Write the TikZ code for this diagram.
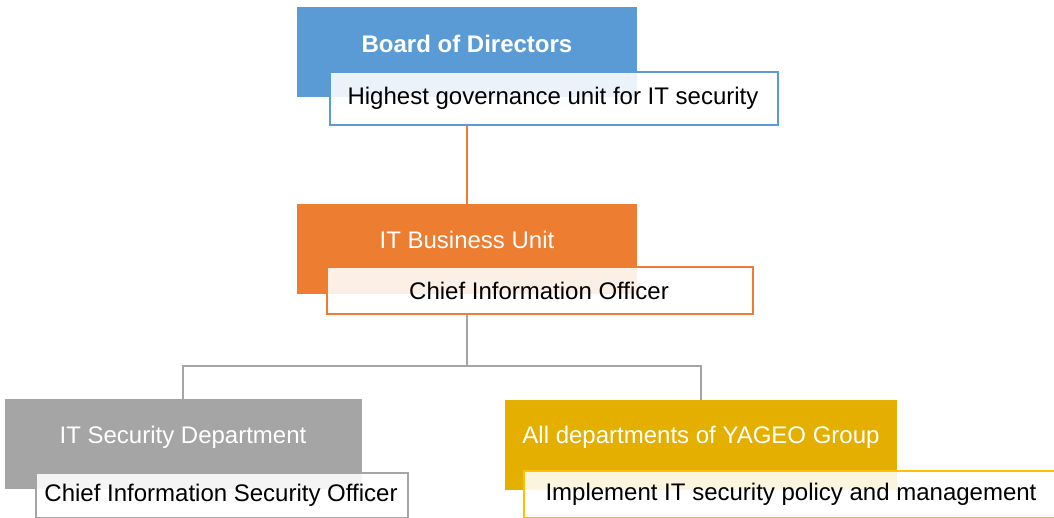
\documentclass[tikz,border=0pt]{standalone}
\usepackage{fontspec}
\setmainfont{Liberation Sans}
\definecolor{cblue}{HTML}{5B9BD5}
\definecolor{corange}{HTML}{ED7D31}
\definecolor{cgray}{HTML}{A5A5A5}
\definecolor{cgold}{HTML}{E5AF00}
\definecolor{cgoldline}{HTML}{FFC000}
\begin{document}
\begin{tikzpicture}[x=1pt,y=-1pt,
  mainbox/.style={rectangle, inner sep=0pt, draw=none, anchor=north west},
  subbox/.style={rectangle, inner sep=0pt, fill=white, fill opacity=0.88, text opacity=1,
    line width=2pt, anchor=north west, text=black, font=\fontsize{24}{28}\selectfont},
  maintext/.style={inner sep=0pt, text=white, font=\fontsize{24}{28}\selectfont},
  subtext/.style={inner sep=0pt, text=black, font=\fontsize{24}{28}\selectfont},
  link/.style={line width=2.5pt}]
\useasboundingbox (0,0) rectangle (1054,518);
% coloured boxes
\node[mainbox, fill=cblue, minimum width=340pt, minimum height=90pt] (bod) at (297,7) {};
\node[mainbox, fill=corange, minimum width=340pt, minimum height=90pt] (itb) at (297,204) {};
\node[mainbox, fill=cgray, minimum width=357pt, minimum height=90pt] (isd) at (5,399) {};
\node[mainbox, fill=cgold, minimum width=392pt, minimum height=90pt] (all) at (505,400) {};
% connector coordinates
\coordinate (c1) at (467,124);
\coordinate (c2) at (467,204);
\coordinate (c3) at (467,313);
\coordinate (h0) at (467,366);
\coordinate (hl) at (183,366);
\coordinate (hr) at (701,366);
\coordinate (dl) at (183,399);
\coordinate (dr) at (701,400);
\draw[link, corange] (c1) -- (c2);
\draw[link, cgray] (c3) -- (h0);
\draw[link, cgray] (dl) -- (hl) -- (hr) -- (dr);
% sub boxes
\node[subbox, draw=cblue, minimum width=448pt, minimum height=53pt] (bods) at (329,71) {};
\node[subbox, draw=corange, minimum width=426pt, minimum height=47pt] (itbs) at (326,266) {};
\node[subbox, draw=cgray, minimum width=372pt, minimum height=45pt] (isds) at (35,472) {};
\node[subbox, draw=cgoldline, minimum width=545pt, minimum height=47pt] (alls) at (523,470) {};
% texts
\node[maintext, font=\fontsize{24}{28}\selectfont\bfseries] (bodt) at (467,44) {Board of Directors};
\node[subtext] (bodst) at (553,98) {Highest governance unit for IT security};
\node[maintext] (itbt) at (467,240) {IT Business Unit};
\node[subtext] (itbst) at (539,291) {Chief Information Officer};
\node[maintext] (isdt) at (183,437) {IT Security Department};
\node[subtext] (isdst) at (221,495) {Chief Information Security Officer};
\node[maintext] (allt) at (701,437) {All departments of YAGEO Group};
\node[subtext] (allst) at (791,494) {Implement IT security policy and management};
\end{tikzpicture}
\end{document}
